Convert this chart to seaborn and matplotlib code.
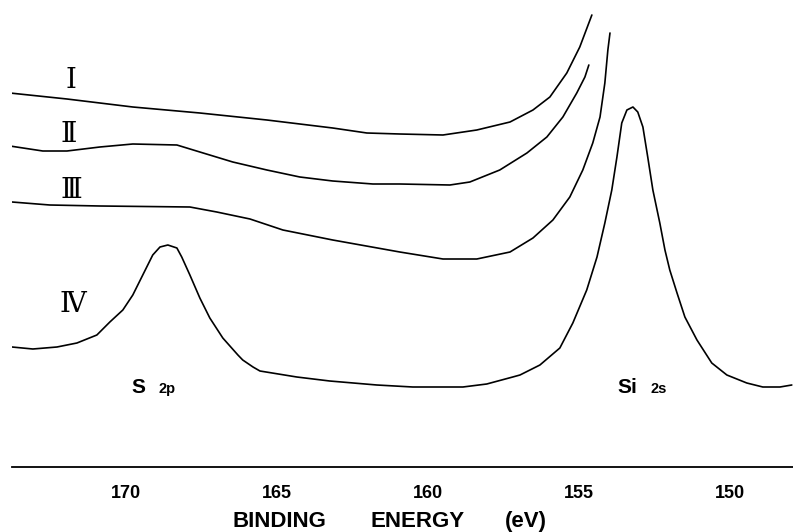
import numpy as np
import pandas as pd
import matplotlib
matplotlib.use("Agg")
import matplotlib.pyplot as plt
import seaborn as sns

# === DATA (binding energy in eV, intensity in arbitrary units) ===
energy_I = [173.84, 171.95, 169.77, 167.55, 165.33, 163.15, 162.02, 160.93, 159.50,
            158.38, 157.28, 156.52, 155.96, 155.40, 154.97, 154.57]
intensity_I = [374, 368, 360, 354, 347, 339, 334, 333, 332, 337, 345, 357, 370, 394,
               420, 452]

energy_II = [173.84, 172.75, 171.95, 170.86, 169.77, 168.31, 167.55, 166.46, 165.33,
             164.24, 163.15, 161.82, 160.93, 159.27, 158.61, 157.62, 156.72, 156.06,
             155.53, 155.07, 154.80, 154.67]
intensity_II = [321, 316, 316, 320, 323, 322, 315, 305, 297, 290, 286, 283, 283, 282,
                285, 297, 314, 330, 350, 374, 390, 402]

energy_III = [173.77, 172.52, 170.86, 167.88, 166.99, 165.89, 164.80, 163.15, 160.93,
              159.50, 158.38, 157.28, 156.52, 155.86, 155.30, 154.87, 154.54, 154.30,
              154.14, 154.04, 153.97]
intensity_III = [265, 262, 261, 260, 255, 248, 237, 227, 215, 208, 208, 215, 229, 247,
                 270, 297, 324, 350, 384, 417, 434]

energy_IV = [173.77, 173.08, 172.28, 171.62, 170.96, 170.53, 170.10, 169.77, 169.44,
             169.11, 168.87, 168.61, 168.31, 168.15, 167.88, 167.55, 167.22, 166.79,
             166.29, 166.13, 165.79, 165.56, 164.34, 163.25, 161.69, 160.50, 158.84,
             158.05, 157.19, 156.95, 156.29, 155.63, 155.20, 154.74, 154.40, 154.14,
             153.91, 153.74, 153.58, 153.41, 153.21, 153.05, 152.88, 152.72, 152.55,
             152.32, 152.15, 151.99, 151.75, 151.49, 151.09, 150.60, 150.10, 149.44,
             148.91, 148.34, 147.95]
intensity_IV = [120, 118, 120, 124, 132, 145, 157, 172, 192, 212, 220, 222, 219, 210,
                192, 169, 149, 129, 112, 107, 100, 96, 90, 86, 82, 80, 80, 83, 90, 92,
                102, 119, 144, 177, 210, 244, 277, 310, 344, 357, 360, 355, 340, 310,
                277, 244, 217, 197, 174, 150, 127, 104, 92, 84, 80, 80, 82]

curve_names = ["I", "II", "III", "IV"]
curve_labels = ["\u2160", "\u2161", "\u2162", "\u2163"]
curves = [(energy_I, intensity_I), (energy_II, intensity_II),
          (energy_III, intensity_III), (energy_IV, intensity_IV)]

tick_values = [170, 165, 160, 155, 150]

# === STYLE ===
sns.set_style("white")
plt.rcParams['font.family'] = ['Liberation Sans', 'DejaVu Sans']
plt.rcParams['text.color'] = 'black'
plt.rcParams['xtick.color'] = 'black'
plt.rcParams['axes.labelcolor'] = 'black'

fig = plt.figure(figsize=(7.93, 5.32), dpi=100)
ax = fig.add_axes([12 / 793, 65 / 532, 781 / 793, 467 / 532])

for name, (e, inten) in zip(curve_names, curves):
    df = pd.DataFrame({"energy": e, "intensity": inten})
    sns.lineplot(data=df, x="energy", y="intensity", ax=ax, color="black",
                 linewidth=1.2, sort=False, estimator=None)

ax.set_xlim(173.77, 147.91)
ax.set_ylim(0, 467)
ax.set_yticks([])
ax.set_ylabel("")
ax.set_xlabel("")
ax.set_xticks(tick_values)
ax.set_xticklabels([str(t) for t in tick_values], fontsize=13, fontweight="bold")
ax.tick_params(axis="x", direction="out", length=4, width=1.1, pad=9, color="black")
for side in ["left", "top", "right"]:
    ax.spines[side].set_visible(False)
ax.spines["bottom"].set_linewidth(1.3)
ax.spines["bottom"].set_color("black")

# axis title, spread out as in the original
for word, xpx in [("BINDING", 233), ("ENERGY", 370), ("(eV)", 505)]:
    fig.text(xpx / 793, 5 / 532, word, fontsize=16, fontweight="bold",
             ha="left", va="baseline")

# curve labels (roman numerals)
label_pos = [(171.82, 387), (171.89, 332), (171.80, 276), (171.75, 162)]
for lab, (lx, ly) in zip(curve_labels, label_pos):
    ax.text(lx, ly, lab, fontsize=20, ha="center", va="center",
            family=["DejaVu Serif", "DejaVu Sans"])

# peak labels
ax.text(169.59, 74, "S", fontsize=15, fontweight="bold", ha="center", va="baseline")
ax.text(168.63, 74, "2p", fontsize=10.5, fontweight="bold", ha="center", va="baseline")
ax.text(153.41, 74, "Si", fontsize=15, fontweight="bold", ha="center", va="baseline")
ax.text(152.35, 74, "2s", fontsize=10.5, fontweight="bold", ha="center", va="baseline")

fig.savefig("out.png", dpi=100)
